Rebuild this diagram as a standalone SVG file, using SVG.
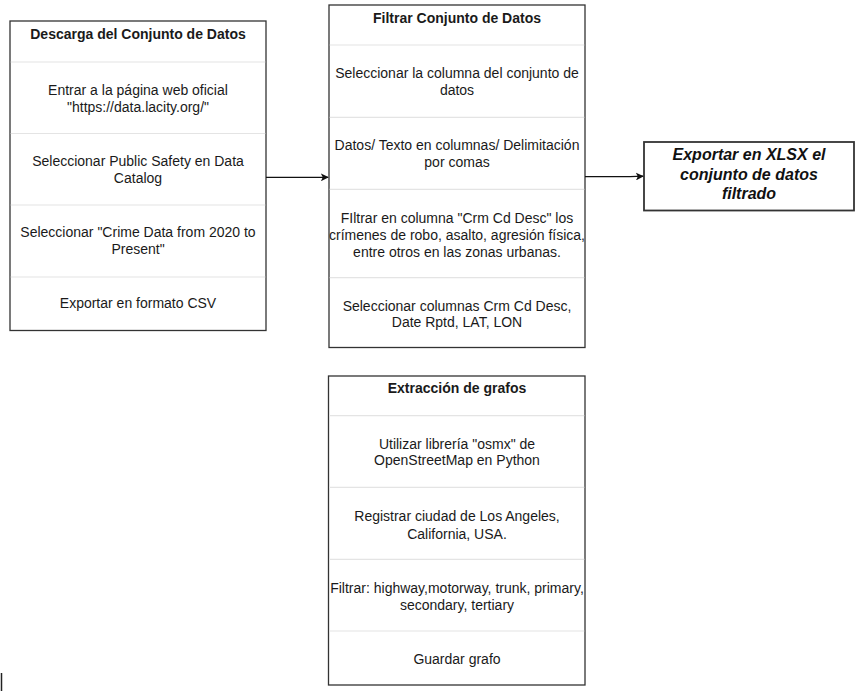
<svg xmlns="http://www.w3.org/2000/svg" width="861" height="691" viewBox="0 0 861 691">
<defs>
<style>
.box{fill:#ffffff;stroke:#333333;stroke-width:1.3}
.div{stroke:#e4e4e4;stroke-width:1.2}
.t{font-family:"Liberation Sans",Arial,sans-serif;font-size:14px;fill:#1a1a1a;text-anchor:middle}
.h{font-weight:bold}
.ex{font-family:"Liberation Sans",Arial,sans-serif;font-size:16px;font-weight:bold;font-style:italic;fill:#111111;text-anchor:middle}
.edge{fill:none;stroke:#111111;stroke-width:1.3}
</style>
<marker id="arr" viewBox="0 0 10 10" refX="9" refY="5" markerWidth="8" markerHeight="8" markerUnits="userSpaceOnUse" orient="auto">
<path d="M0,0 L10,5 L0,10 L2.5,5 Z" fill="#111111"/>
</marker>
</defs>
<rect width="861" height="691" fill="#ffffff"/>

<g id="descarga">
<rect class="box" x="10" y="21" width="256" height="309.5"/>
<line class="div" x1="10.7" y1="62" x2="265.3" y2="62"/>
<line class="div" x1="10.7" y1="133.5" x2="265.3" y2="133.5"/>
<line class="div" x1="10.7" y1="205" x2="265.3" y2="205"/>
<line class="div" x1="10.7" y1="277" x2="265.3" y2="277"/>
<text class="t h" x="138" y="39">Descarga del Conjunto de Datos</text>
<text class="t" x="138" y="94.5">Entrar a la página web oficial</text>
<text class="t" x="138" y="112">"https://data.lacity.org/"</text>
<text class="t" x="138" y="166">Seleccionar Public Safety en Data</text>
<text class="t" x="138" y="183">Catalog</text>
<text class="t" x="138" y="237">Seleccionar "Crime Data from 2020 to</text>
<text class="t" x="138" y="254">Present"</text>
<text class="t" x="138" y="308">Exportar en formato CSV</text>
</g>

<g id="filtrar">
<rect class="box" x="329" y="5" width="256" height="342.5"/>
<line class="div" x1="329.7" y1="45" x2="584.3" y2="45"/>
<line class="div" x1="329.7" y1="117.3" x2="584.3" y2="117.3"/>
<line class="div" x1="329.7" y1="189.3" x2="584.3" y2="189.3"/>
<line class="div" x1="329.7" y1="277.7" x2="584.3" y2="277.7"/>
<text class="t h" x="457" y="23">Filtrar Conjunto de Datos</text>
<text class="t" x="457" y="78">Seleccionar la columna del conjunto de</text>
<text class="t" x="457" y="94.5">datos</text>
<text class="t" x="457" y="150">Datos/ Texto en columnas/ Delimitación</text>
<text class="t" x="457" y="167">por comas</text>
<text class="t" x="457" y="223">FIltrar en columna "Crm Cd Desc" los</text>
<text class="t" x="457" y="240">crímenes de robo, asalto, agresión física,</text>
<text class="t" x="457" y="256.5">entre otros en las zonas urbanas.</text>
<text class="t" x="457" y="310.5">Seleccionar columnas Crm Cd Desc,</text>
<text class="t" x="457" y="327">Date Rptd, LAT, LON</text>
</g>

<g id="exportar">
<rect x="644" y="142" width="210" height="68.5" fill="#ffffff" stroke="#333333" stroke-width="1.8"/>
<text class="ex" x="749" y="160">Exportar en XLSX el</text>
<text class="ex" x="749" y="179.5">conjunto de datos</text>
<text class="ex" x="749" y="199">filtrado</text>
</g>

<g id="extraccion">
<rect class="box" x="328.5" y="376" width="256.5" height="309"/>
<line class="div" x1="329.2" y1="415.7" x2="584.3" y2="415.7"/>
<line class="div" x1="329.2" y1="487.3" x2="584.3" y2="487.3"/>
<line class="div" x1="329.2" y1="559.3" x2="584.3" y2="559.3"/>
<line class="div" x1="329.2" y1="631" x2="584.3" y2="631"/>
<text class="t h" x="457" y="393">Extracción de grafos</text>
<text class="t" x="457" y="448.5">Utilizar librería "osmx" de</text>
<text class="t" x="457" y="465">OpenStreetMap en Python</text>
<text class="t" x="457" y="521">Registrar ciudad de Los Angeles,</text>
<text class="t" x="457" y="538.5">California, USA.</text>
<text class="t" x="457" y="593">Filtrar: highway,motorway, trunk, primary,</text>
<text class="t" x="457" y="609.5">secondary, tertiary</text>
<text class="t" x="457" y="664">Guardar grafo</text>
</g>

<g id="connectors">
<path class="edge" d="M266,177.3 L328,177.3" marker-end="url(#arr)"/>
<path class="edge" d="M585,176.7 L630,176.7 L643,176.2" marker-end="url(#arr)"/>
</g>

<line x1="1.5" y1="673" x2="1.5" y2="691" stroke="#222222" stroke-width="1.5"/>
</svg>
